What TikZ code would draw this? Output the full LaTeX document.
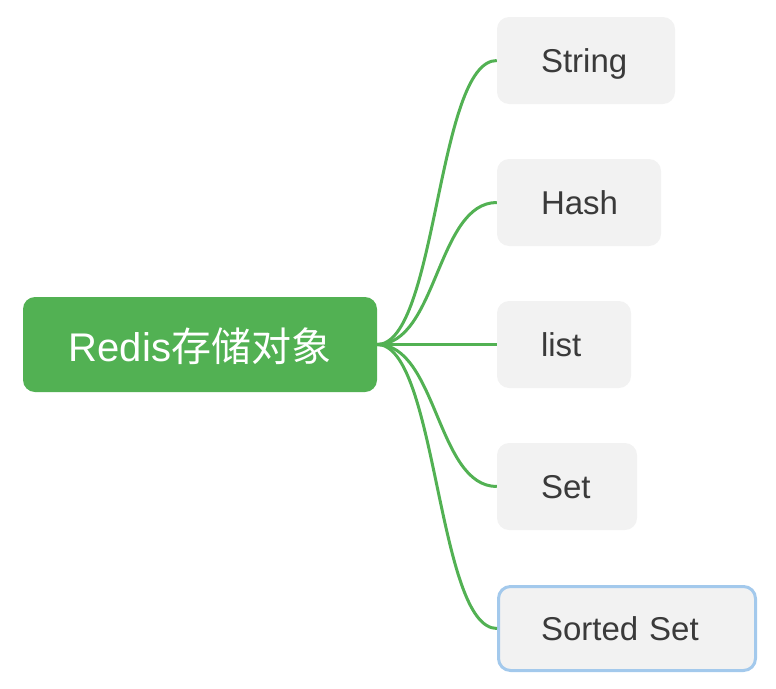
\documentclass[tikz,border=0pt]{standalone}
\usepackage{fontspec}
\setmainfont{Liberation Sans}
\newfontfamily\cjk{Noto Sans CJK SC}
\definecolor{rgreen}{HTML}{52B153}
\definecolor{boxgray}{HTML}{F2F2F2}
\definecolor{txtgray}{HTML}{3A3A3A}
\definecolor{selblue}{HTML}{A3C9EC}
\begin{document}
\begin{tikzpicture}[x=1pt,y=-1pt,
  rootbox/.style={fill=rgreen, rounded corners=12pt, text=white, font=\fontsize{40}{48}\selectfont, minimum width=354pt, minimum height=95pt, inner sep=0pt, text height=33.6pt, text depth=0pt},
  leafbox/.style={fill=boxgray, rounded corners=12pt, text=txtgray, font=\fontsize{33}{40}\selectfont, minimum height=87pt, inner ysep=0pt, inner xsep=44pt, text width=#1, align=left, text height=24.6pt, text depth=0pt},
  selbox/.style={leafbox=#1, draw=selblue, line width=3pt, minimum height=84pt, inner xsep=42.5pt},
  link/.style={draw=rgreen, line width=3pt}]
\useasboundingbox (0,0) rectangle (776,688);
\node[rootbox] (root) at (200,344.5) {Redis{\cjk 存储对象}};
\node[leafbox=90pt] (string) at (586,60.5) {String};
\node[leafbox=76pt] (hash) at (579,202.5) {Hash};
\node[leafbox=46pt] (list) at (564,344.5) {list};
\node[leafbox=52pt] (set) at (567,486.5) {Set};
\node[selbox=172pt] (sorted) at (627,628.5) {Sorted Set};
\foreach \t in {string,hash,list,set,sorted}{
  \draw[link] (root.east) .. controls +(60,0) and +(-60,0) .. (\t.west);
}
\end{tikzpicture}
\end{document}
